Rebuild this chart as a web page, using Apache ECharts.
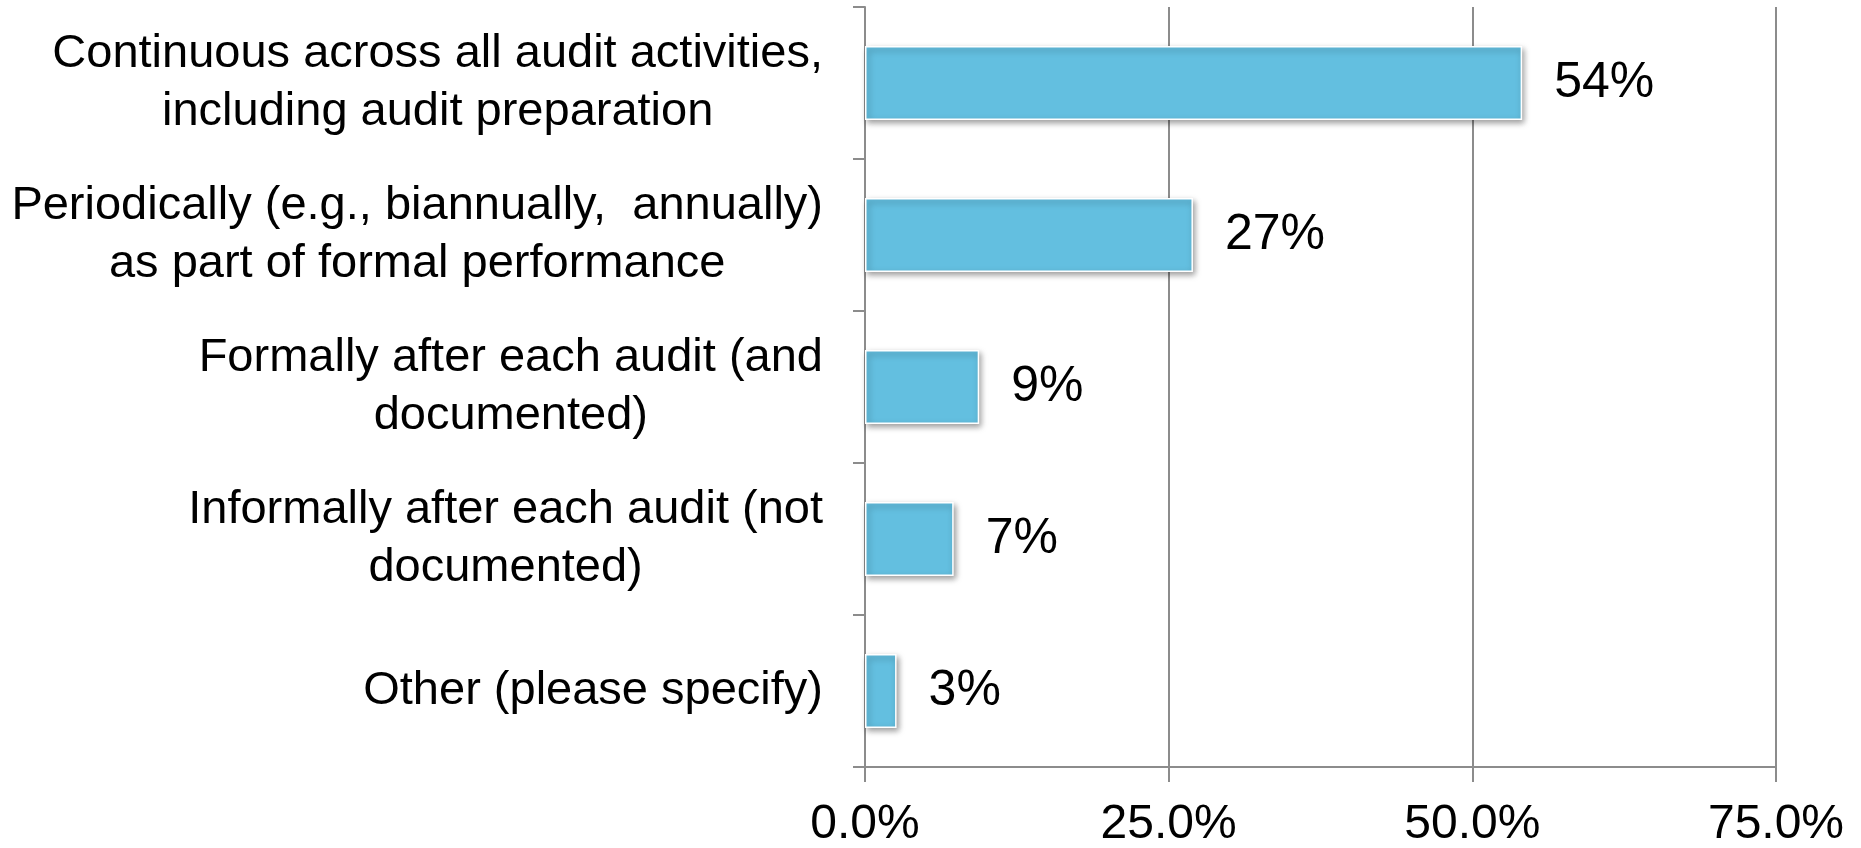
<!DOCTYPE html>
<html>
<head>
<meta charset="utf-8">
<script src="https://cdn.jsdelivr.net/npm/echarts@6/dist/echarts.min.js"></script>
<style>
  html, body { margin: 0; padding: 0; background: #fff; }
  #chart { width: 1861px; height: 848px; }
</style>
</head>
<body>
<div id="chart"></div>
<script>
// 类别与数值
var categories = [
    'Continuous across all audit activities,\nincluding audit preparation',
    'Periodically (e.g., biannually,  annually)\nas part of formal performance',
    'Formally after each audit (and\ndocumented)',
    'Informally after each audit (not\ndocumented)',
    'Other (please specify)'
];
var values = [54.1, 27.0, 9.4, 7.3, 2.6];
var xTicks = [0, 25, 50, 75];

var font = "'Liberation Sans', Arial, sans-serif";
var gray = '#8c8c8c';

var myChart = echarts.init(document.getElementById('chart'));

var option = {
    animation: false,
    grid: { left: 865, right: 85, top: 7, bottom: 81, outerBoundsMode: 'none', containLabel: false },
    xAxis: {
        type: 'value',
        min: xTicks[0],
        max: xTicks[xTicks.length - 1],
        interval: 25,
        axisLine: { show: true, lineStyle: { color: gray, width: 2 } },
        axisTick: { show: true, length: 15, lineStyle: { color: gray, width: 2 } },
        splitLine: { show: true, lineStyle: { color: gray, width: 2 } },
        axisLabel: {
            margin: 34,
            color: '#000',
            fontFamily: font,
            fontSize: 48,
            formatter: function (v) { return v.toFixed(1) + '%'; }
        }
    },
    yAxis: {
        type: 'category',
        inverse: true,
        data: categories,
        axisLine: { show: true, lineStyle: { color: gray, width: 2 } },
        axisTick: { show: true, length: 12, lineStyle: { color: gray, width: 2 } },
        axisLabel: {
            margin: 42,
            color: '#000',
            formatter: function (v) {
                return v.split('\n').map(function (l) { return '{c|' + l + '}'; }).join('\n');
            },
            rich: {
                c: { align: 'center', fontFamily: font, fontSize: 47, lineHeight: 58, color: '#000' }
            }
        }
    },
    series: [{
        type: 'bar',
        data: values,
        barWidth: 74,
        itemStyle: {
            color: '#63bfe0',
            borderColor: '#ffffff',
            borderWidth: 1.5,
            shadowColor: 'rgba(0,0,0,0.4)',
            shadowBlur: 6,
            shadowOffsetX: 2,
            shadowOffsetY: 3
        },
        label: {
            show: true,
            position: 'right',
            distance: 32,
            color: '#000',
            fontFamily: font,
            fontSize: 50,
            formatter: function (p) { return Math.round(p.value) + '%'; }
        }
    }]
};

myChart.setOption(option);
</script>
</body>
</html>
